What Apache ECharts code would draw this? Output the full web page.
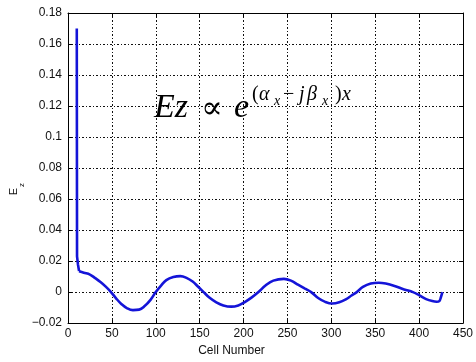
<!DOCTYPE html>
<html>
<head>
<meta charset="utf-8">
<script src="https://cdn.jsdelivr.net/npm/echarts@6/dist/echarts.min.js"></script>
<style>html,body{margin:0;padding:0;background:#fff;}#c{width:476px;height:362px;}</style>
</head>
<body>
<div id="c"></div>
<script>
// ---- data ----
const xTickLabels = ['0','50','100','150','200','250','300','350','400','450'];
const yTickLabels = ['-0.02','0','0.02','0.04','0.06','0.08','0.1','0.12','0.14','0.16','0.18'];

const spikeCells = [10, 10.3, 11.3, 12.6];
const spikeEz    = [0.170, 0.023, 0.018, 0.0135];

const waveCells = [12.6, 18, 25, 31, 37, 43, 49, 55, 61, 67, 74, 81, 87, 94, 100,
  106, 112, 120, 128, 135, 142, 148, 154.5, 161, 169, 177, 186, 194, 201, 209, 217,
  225, 234, 246, 254, 262, 270, 277, 285, 293, 301, 309, 317, 323, 329,
  336, 345, 354, 362, 372, 383, 393, 400, 408, 415, 420, 423, 425, 426.5];
const waveEz = [0.0135, 0.0125, 0.0113, 0.009, 0.0065, 0.0035, 0, -0.0042, -0.0078, -0.0103, -0.0116, -0.0113, -0.0092, -0.005, 0,
  0.0042, 0.0077, 0.0097, 0.0103, 0.0092, 0.0068, 0.0036, 0, -0.0035, -0.0066, -0.0086, -0.0094, -0.0086, -0.0066, -0.0036, 0,
  0.0042, 0.0074, 0.0085, 0.0074, 0.0048, 0.0022, 0, -0.0038, -0.0063, -0.0074, -0.0066, -0.0045, -0.0022, 0,
  0.0033, 0.0055, 0.006, 0.0055, 0.004, 0.0017, 0, -0.002, -0.0045, -0.0058, -0.0062, -0.0058, -0.003, 0];

const xLabelMap = {}; xTickLabels.forEach(s => xLabelMap[Number(s)] = s);
const yLabelMap = {}; yTickLabels.forEach(s => yLabelMap[Number(s).toFixed(2)] = s.replace('-', '\u2212'));

const blue = '#1414d8';
const gridLine = {show: true, lineStyle: {color: '#111', width: 1, type: [2, 2, 1, 2]}};
const labelFont = {fontFamily: 'Liberation Sans, Arial, sans-serif', fontSize: 12, color: '#111'};
const serif = '"Liberation Serif", "DejaVu Serif", serif';

const chart = echarts.init(document.getElementById('c'), null, {renderer: 'canvas'});

function t(text, x, baseline, size, italic) {
  return {
    type: 'text', z: 100, x: x, y: baseline - 0.34 * size,
    style: {text: text, fill: '#000', textAlign: 'left', textVerticalAlign: 'middle',
      font: (italic ? 'italic ' : '') + size + 'px ' + serif}
  };
}

chart.setOption({
  animation: false,
  backgroundColor: '#fff',
  grid: {left: 68, right: 9, top: 13, bottom: 35},
  xAxis: [{
    type: 'value', min: 0, max: 450, interval: 50, position: 'bottom',
    name: 'Cell Number', nameLocation: 'middle', nameGap: 21,
    nameTextStyle: Object.assign({}, labelFont, {padding: [0, 68, 0, 0]}),
    axisLine: {show: true, onZero: false, lineStyle: {color: '#000', width: 1}},
    axisTick: {show: true, inside: true, length: 4, lineStyle: {color: '#000'}},
    axisLabel: Object.assign({}, labelFont, {margin: 5, formatter: v => xLabelMap[v] !== undefined ? xLabelMap[v] : ''}),
    splitLine: gridLine
  }, {
    type: 'value', min: 0, max: 450, interval: 50, position: 'top',
    axisLine: {show: true, onZero: false, lineStyle: {color: '#000', width: 1}},
    axisTick: {show: true, inside: true, length: 4, lineStyle: {color: '#000'}},
    axisLabel: {show: false}, splitLine: {show: false}
  }],
  yAxis: [{
    type: 'value', min: -0.02, max: 0.18, interval: 0.02, position: 'left',
    axisLine: {show: true, onZero: false, lineStyle: {color: '#000', width: 1}},
    axisTick: {show: true, inside: true, length: 4, lineStyle: {color: '#000'}},
    axisLabel: Object.assign({}, labelFont, {margin: 6, formatter: v => yLabelMap[v.toFixed(2)] || ''}),
    splitLine: gridLine
  }, {
    type: 'value', min: -0.02, max: 0.18, interval: 0.02, position: 'right',
    axisLine: {show: true, onZero: false, lineStyle: {color: '#000', width: 1}},
    axisTick: {show: true, inside: true, length: 4, lineStyle: {color: '#000'}},
    axisLabel: {show: false}, splitLine: {show: false}
  }],
  series: [{
    type: 'line', xAxisIndex: 0, yAxisIndex: 0, showSymbol: false, symbol: 'none',
    data: spikeCells.map((c, i) => [c, spikeEz[i]]),
    lineStyle: {color: blue, width: 2.6}, itemStyle: {color: blue}
  }, {
    type: 'line', xAxisIndex: 0, yAxisIndex: 0, showSymbol: false, symbol: 'none', smooth: 0.4,
    data: waveCells.map((c, i) => [c, waveEz[i]]),
    lineStyle: {color: blue, width: 2.6}, itemStyle: {color: blue}
  }],
  graphic: [
    // y-axis name E_z (rotated)
    {type: 'text', x: 14, y: 191.5, rotation: Math.PI / 2, z: 100,
      style: {text: 'E', fill: '#111', textAlign: 'center', textVerticalAlign: 'middle', font: '11px "Liberation Sans", Arial, sans-serif'}},
    {type: 'text', x: 21.5, y: 185, rotation: Math.PI / 2, z: 100,
      style: {text: 'z', fill: '#111', textAlign: 'center', textVerticalAlign: 'middle', font: '8px "Liberation Sans", Arial, sans-serif'}},
    // annotation Ez ∝ e^{(α_x − jβ_x)x}
    t('Ez', 154, 120, 34, true),
    t('\u221D', 201, 120, 32, false),
    t('e', 234, 120, 34, true),
    t('(', 252, 102, 20, false),
    t('\u03B1', 259, 102, 20, true),
    t('x', 274, 106, 14, true),
    t('\u2212', 283, 102, 20, false),
    t('j', 299, 102, 20, true),
    t('\u03B2', 307, 102, 20, true),
    t('x', 322, 106, 14, true),
    t(')', 335, 102, 20, false),
    t('x', 342, 102, 20, true)
  ]
});
</script>
</body>
</html>
